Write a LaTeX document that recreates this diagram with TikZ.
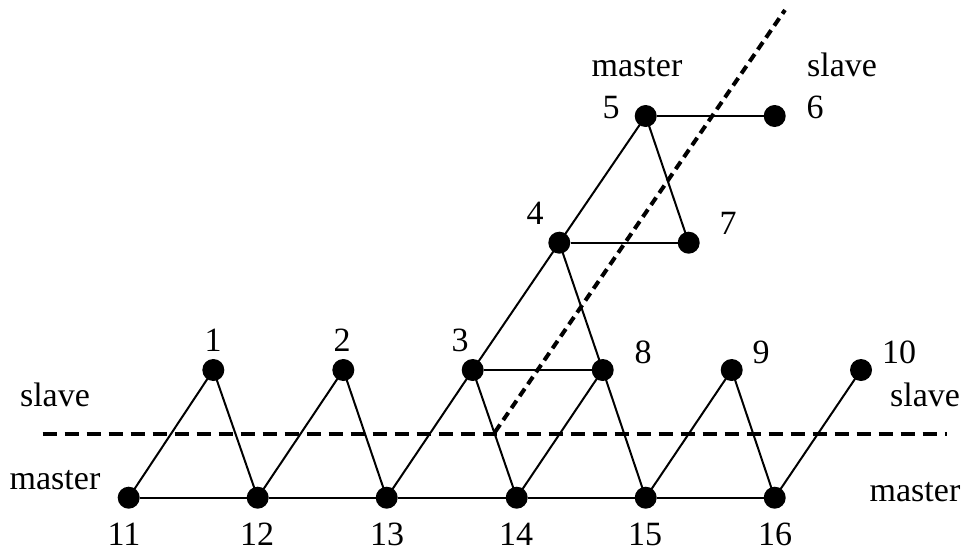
\documentclass[tikz,border=0pt]{standalone}
\usepackage{fontspec}
\setmainfont{Liberation Serif}
\begin{document}
\begin{tikzpicture}[x=1pt,y=-1pt,
  vtx/.style={circle,fill=black,inner sep=0pt,minimum size=22pt},
  edge/.style={line width=2pt},
  cut/.style={line width=4pt,dash pattern=on 14pt off 8pt},
  diagcut/.style={line width=4pt,dash pattern=on 9pt off 5.5pt},
  lbl/.style={inner sep=0pt,text height=23pt,text depth=0pt,font=\fontsize{34}{40}\selectfont}]
\useasboundingbox (0,0) rectangle (965,554);
% vertices
\node[vtx] (n11) at (128.7,497.7) {};
\node[vtx] (n12) at (257.7,497.7) {};
\node[vtx] (n13) at (386.7,497.7) {};
\node[vtx] (n14) at (516.7,497.7) {};
\node[vtx] (n15) at (645.7,497.7) {};
\node[vtx] (n16) at (774.7,497.7) {};
\node[vtx] (n1) at (213.3,370) {};
\node[vtx] (n2) at (343.3,370) {};
\node[vtx] (n3) at (472.7,370) {};
\node[vtx] (n8) at (602.7,370) {};
\node[vtx] (n9) at (731.7,370) {};
\node[vtx] (n10) at (861,370) {};
\node[vtx] (n4) at (559.3,242.7) {};
\node[vtx] (n7) at (688.7,242.7) {};
\node[vtx] (n5) at (645.7,116) {};
\node[vtx] (n6) at (774.7,116) {};
% edges
\draw[edge] (n11) -- (n12) -- (n13) -- (n14) -- (n15) -- (n16);
\draw[edge] (n11.center) -- (n1.center) -- (n12.center) -- (n2.center) -- (n13.center) -- (n3.center) -- (n14.center) -- (n8.center) -- (n15.center) -- (n9.center) -- (n16.center) -- (n10.center);
\draw[edge] (n3) -- (n8);
\draw[edge] (n3.center) -- (n4.center) -- (n8.center);
\draw[edge] (n4) -- (n7);
\draw[edge] (n7.center) -- (n5.center) -- (n4.center);
\draw[edge] (n5) -- (n6);
% cut lines
\coordinate (hL) at (42.7,434.3);
\coordinate (hR) at (947,434.3);
\coordinate (dB) at (495,432);
\coordinate (dT) at (785,10);
\draw[cut] (hL) -- (hR);
\draw[diagcut] (dB) -- (dT);
% labels
\node[lbl] (l1) at (213,340) {1};
\node[lbl] (l2) at (342,340) {2};
\node[lbl] (l3) at (460,340) {3};
\node[lbl] (l8) at (643,352) {8};
\node[lbl] (l9) at (761,352) {9};
\node[lbl] (l10) at (899,352) {10};
\node[lbl] (l4) at (535,213) {4};
\node[lbl] (l7) at (728,223) {7};
\node[lbl] (l5) at (611,107) {5};
\node[lbl] (l6) at (815,107) {6};
\node[lbl] (l11) at (124,534) {11};
\node[lbl] (l12) at (257,534) {12};
\node[lbl] (l13) at (387,534) {13};
\node[lbl] (l14) at (516,534) {14};
\node[lbl] (l15) at (645,534) {15};
\node[lbl] (l16) at (775,534) {16};
\node[lbl] (mT) at (637,65) {master};
\node[lbl] (sT) at (842,65) {slave};
\node[lbl] (sL) at (55,395) {slave};
\node[lbl] (mL) at (55,478) {master};
\node[lbl] (sR) at (925,395) {slave};
\node[lbl] (mR) at (915,490) {master};
\end{tikzpicture}
\end{document}
